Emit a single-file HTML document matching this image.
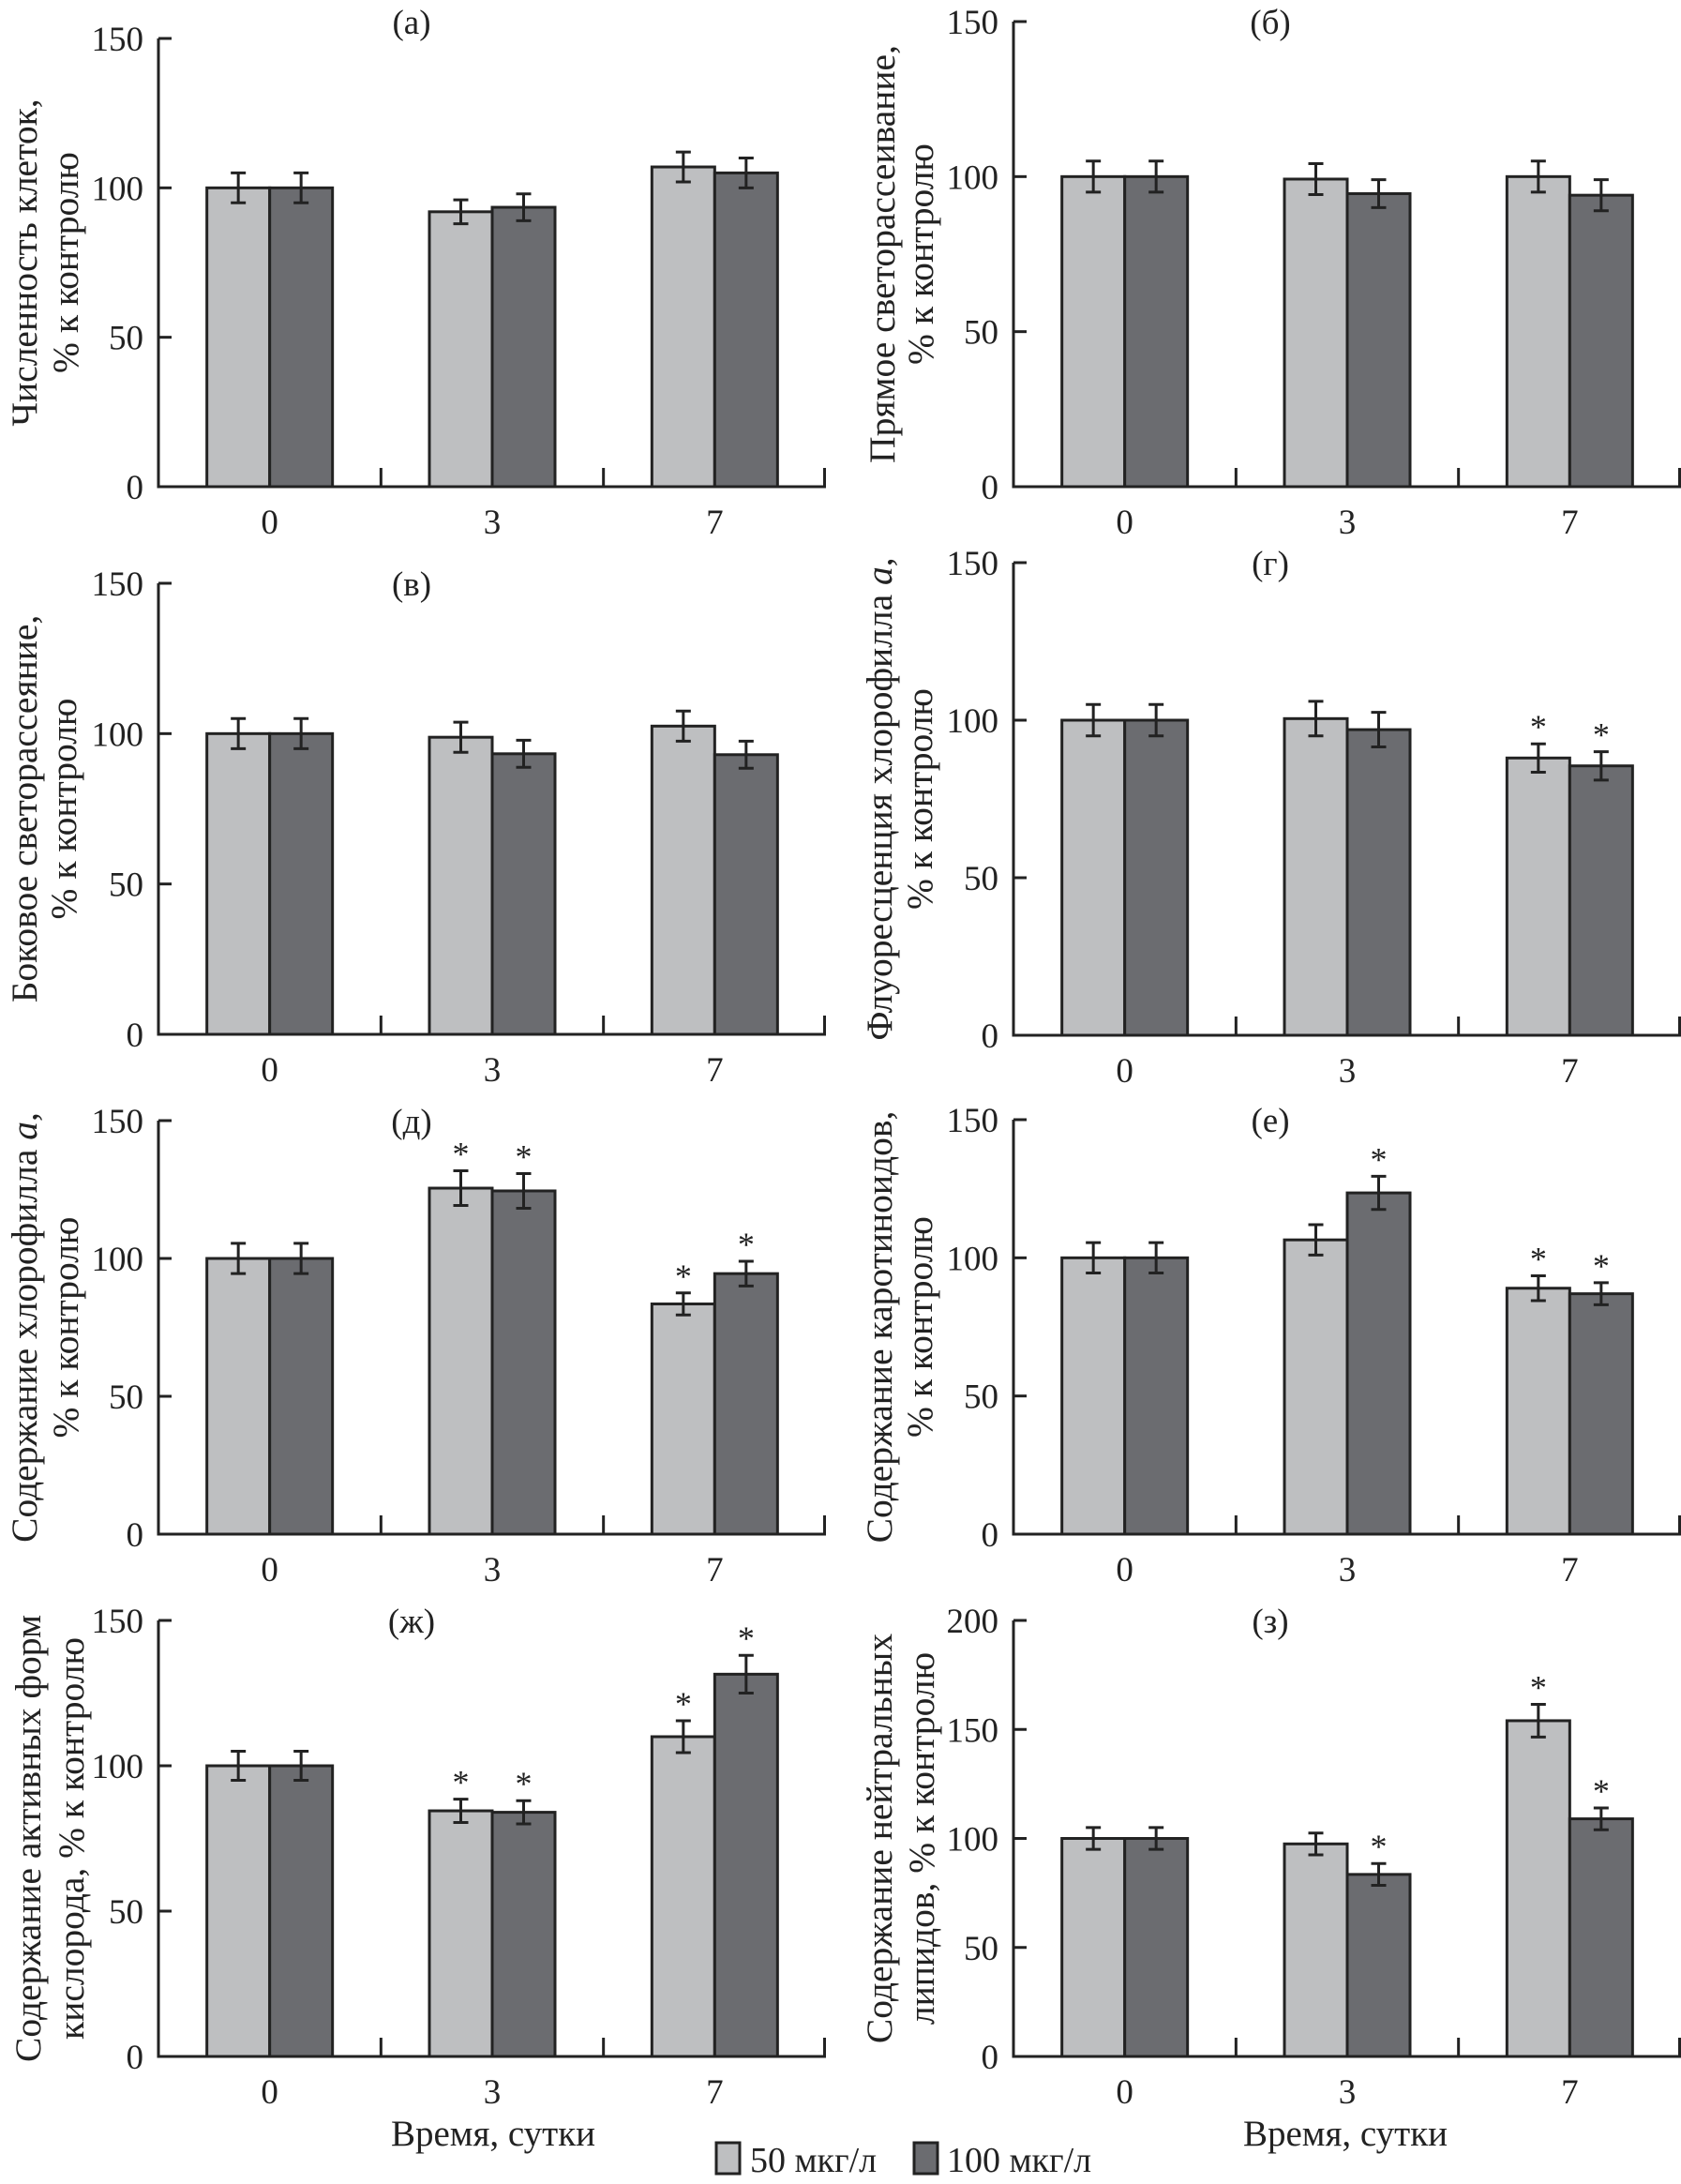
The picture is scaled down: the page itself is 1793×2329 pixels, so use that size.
<!DOCTYPE html>
<html><head><meta charset="utf-8"><style>
html,body{margin:0;padding:0;background:#fff;}
svg{display:block;font-family:"Liberation Serif",serif;}
</style></head><body>
<svg id="chart" width="1793" height="2329" viewBox="0 0 1793 2329" xmlns="http://www.w3.org/2000/svg"></svg>
<script>
const categories = ["0","3","7"];
const seriesNames = ["50 мкг/л","100 мкг/л"];
const valsA50 = [100,92,107], valsA100 = [100,93.5,105], errA50=[5,4,5], errA100=[5,4.5,5];
const valsB50 = [100,99.2,100], valsB100 = [100,94.5,94], errB50=[5,5,5], errB100=[5,4.5,5];
const valsV50 = [100,98.8,102.5], valsV100 = [100,93.3,93], errV50=[5,5,5], errV100=[5,4.5,4.5];
const valsG50 = [100,100.5,88], valsG100 = [100,97,85.5], errG50=[5,5.5,4.5], errG100=[5,5.5,4.5];
const valsD50 = [100,125.5,83.5], valsD100 = [100,124.5,94.5], errD50=[5.5,6.3,4], errD100=[5.5,6.3,4.5];
const valsE50 = [100,106.5,89], valsE100 = [100,123.5,87], errE50=[5.5,5.5,4.5], errE100=[5.5,6,4];
const valsZh50 = [100,84.5,110], valsZh100 = [100,84,131.5], errZh50=[5,4,5.5], errZh100=[5,4,6.5];
const valsZ50 = [100,97.5,154], valsZ100 = [100,83.5,109], errZ50=[5,5,7.5], errZ100=[5,5,5];
const starsA=[[0,0,0],[0,0,0]], starsG=[[0,0,1],[0,0,1]], starsD=[[0,1,1],[0,1,1]];
const starsE=[[0,0,1],[0,1,1]], starsZh=[[0,1,1],[0,1,1]], starsZ=[[0,0,1],[0,1,1]];
const ticks150=[0,50,100,150], ticks200=[0,50,100,150,200];

const NS="http://www.w3.org/2000/svg";
const svg=document.getElementById('chart');
function mk(tag,attrs,parent,text){const e=document.createElementNS(NS,tag);for(const k in attrs)e.setAttribute(k,attrs[k]);if(text!==undefined)e.textContent=text;(parent||svg).appendChild(e);return e;}

const panels=[
 {id:'a',title:'(а)',lab:['Численность клеток,','% к контролю'],x0:169,top:41,bot:519,max:150,ticks:ticks150,v:[valsA50,valsA100],e:[errA50,errA100],s:starsA,lx:[26,70],tx:439},
 {id:'b',title:'(б)',lab:['Прямое светорассеивание,','% к контролю'],x0:1081,top:23,bot:519,max:150,ticks:ticks150,v:[valsB50,valsB100],e:[errB50,errB100],s:starsA,lx:[941,982],tx:1355},
 {id:'v',title:'(в)',lab:['Боковое светорассеяние,','% к контролю'],x0:169,top:622,bot:1103,max:150,ticks:ticks150,v:[valsV50,valsV100],e:[errV50,errV100],s:starsA,lx:[26,68],tx:439},
 {id:'g',title:'(г)',lab:['Флуоресценция хлорофилла a,','% к контролю'],x0:1081,top:600,bot:1104,max:150,ticks:ticks150,v:[valsG50,valsG100],e:[errG50,errG100],s:starsG,lx:[938,981],tx:1355},
 {id:'d',title:'(д)',lab:['Содержание хлорофилла a,','% к контролю'],x0:169,top:1195,bot:1636,max:150,ticks:ticks150,v:[valsD50,valsD100],e:[errD50,errD100],s:starsD,lx:[26,70],tx:439},
 {id:'e',title:'(е)',lab:['Содержание каротиноидов,','% к контролю'],x0:1081,top:1194,bot:1636,max:150,ticks:ticks150,v:[valsE50,valsE100],e:[errE50,errE100],s:starsE,lx:[938,981],tx:1355},
 {id:'zh',title:'(ж)',lab:['Содержание активных форм','кислорода, % к контролю'],x0:169,top:1728,bot:2193,max:150,ticks:ticks150,v:[valsZh50,valsZh100],e:[errZh50,errZh100],s:starsZh,lx:[30,76],tx:439},
 {id:'z',title:'(з)',lab:['Содержание нейтральных','липидов, % к контролю'],x0:1081,top:1728,bot:2193,max:200,ticks:ticks200,v:[valsZ50,valsZ100],e:[errZ50,errZ100],s:starsZ,lx:[938,983],tx:1355}
];
const fills=['#bebfc1','#6b6c70'];
panels.forEach(p=>{
  const g=mk('g',{});
  
  
  const W=712, x1=p.x0+W;
  const y=v=>p.bot-(v/p.max)*(p.bot-p.top);
  const grp=W/3, bw=67;
  categories.forEach((c,i)=>{
    const cx=p.x0+grp*(i+0.5);
    [0,1].forEach(s=>{
      const val=p.v[s][i], er=p.e[s][i];
      const bx=s===0?cx-bw:cx;
      const r=mk('rect',{x:bx,y:y(val),width:bw,height:p.bot-y(val),fill:fills[s],stroke:'#222',"stroke-width":3},g);
      
      
      const ex=bx+bw/2;
      const eb=mk('path',{d:`M${ex},${y(val+er)}V${y(val-er)}M${ex-8},${y(val+er)}H${ex+8}M${ex-8},${y(val-er)}H${ex+8}`,stroke:'#222',"stroke-width":3,fill:'none'},g);
      
      
      if(p.s[s][i]){
        const st=mk('text',{x:ex,y:y(val+er)-6,"font-size":36,"text-anchor":'middle',fill:'#222'},g,'*');
        
        
      }
    });
    const tl=mk('text',{x:cx,y:p.bot+50,"font-size":37,"text-anchor":'middle',fill:'#222'},g,c);
    
    
  });
  const ax=mk('path',{d:`M${p.x0},${p.top}V${p.bot}H${x1}`,stroke:'#222',"stroke-width":3,fill:'none'},g);
  
  
  for(let k=1;k<=3;k++){
    const dx=p.x0+grp*k - (k===3?1.5:0);
    mk('line',{x1:dx,y1:p.bot,x2:dx,y2:p.bot-20,stroke:'#222',"stroke-width":3},g);
  }
  p.ticks.forEach(t=>{
    mk('line',{x1:p.x0,y1:y(t),x2:p.x0+14,y2:y(t),stroke:'#222',"stroke-width":3},g);
    const tt=mk('text',{x:p.x0-16,y:y(t)+13,"font-size":37,"text-anchor":'end',fill:'#222'},g,String(t));
    
    
  });
  const ti=mk('text',{x:p.tx,y:(p.id==='a'||p.id==='b')?36:y(p.max)+13,"font-size":37,"text-anchor":'middle',fill:'#222'},g,p.title);
  
  
  const cy=(p.top+p.bot)/2;
  p.lab.forEach((L,j)=>{
    const t=mk('text',{x:p.lx[j],y:cy,"font-size":39.5,"text-anchor":'middle',"dominant-baseline":'central',fill:'#222',transform:`rotate(-90 ${p.lx[j]} ${cy})`},g);
    if(L.indexOf(' a,')>=0){t.appendChild(document.createTextNode(L.replace(' a,',' ')));mk('tspan',{"font-style":'italic'},t,'a');t.appendChild(document.createTextNode(','));}
    else t.textContent=L;
    
    
  });
});
const xl1=mk('text',{x:526,y:2288,"font-size":39,"text-anchor":'middle',fill:'#222'},svg,'Время, сутки');


const xl2=mk('text',{x:1435,y:2288,"font-size":39,"text-anchor":'middle',fill:'#222'},svg,'Время, сутки');


const leg=mk('g',{});


[[764,800],[975,1010]].forEach((pos,i)=>{
  const r=mk('rect',{x:pos[0],y:2285,width:25,height:33,fill:fills[i],stroke:'#222',"stroke-width":3},leg);
  
  
  const t=mk('text',{x:pos[1],y:2316,"font-size":38,fill:'#222'},leg,seriesNames[i]);
  
  
});
</script>
</body></html>
